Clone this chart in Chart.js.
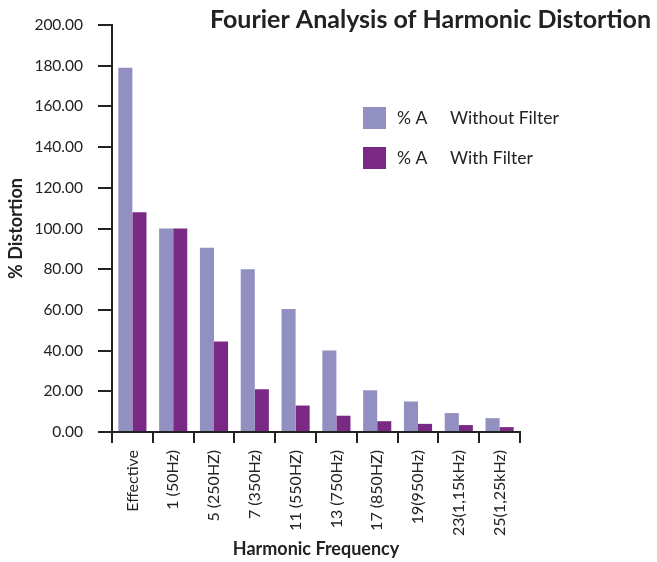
<!DOCTYPE html>
<html>
<head>
<meta charset="utf-8">
<script src="https://cdn.jsdelivr.net/npm/chart.js@4/dist/chart.umd.min.js"></script>
<style>
  html, body { margin: 0; padding: 0; background: #ffffff; }
  #wrap { width: 657px; height: 562px; position: relative; }
</style>
</head>
<body>
<div id="wrap"><canvas id="c" width="657" height="562"></canvas></div>
<script>
const chartTitle = 'Fourier Analysis of Harmonic Distortion';
const xAxisTitle = 'Harmonic Frequency';
const yAxisTitle = '% Distortion';
const categories = ['Effective', '1 (50Hz)', '5 (250HZ)', '7 (350Hz)', '11 (550HZ)', '13 (750Hz)', '17 (850HZ)', '19(950Hz)', '23(1,15kHz)', '25(1,25kHz)'];
const seriesNames = ['% A\tWithout Filter', '% A\tWith Filter'];
const withoutFilter = [179, 100, 90.5, 80, 60.5, 40, 20.5, 15, 9.3, 6.8];
const withFilter = [108, 100, 44.5, 21, 13, 8, 5.3, 4, 3.4, 2.4];
const yMin = 0, yMax = 200, yStep = 20;

const colLight = '#9190c0';
const colDark = '#7a2a84';
const ink = '#222222';
const FONT = 'Lato, "Open Sans", sans-serif';

const overlayPlugin = {
  id: 'overlay',
  afterDraw(chart) {
    const ctx = chart.ctx;
    ctx.save();
    // title
    ctx.fillStyle = ink;
    ctx.font = 'bold 25px ' + FONT;
    ctx.textAlign = 'right';
    ctx.textBaseline = 'alphabetic';
    ctx.fillText(chartTitle, 651, 28);
    // legend
    const boxX = 363, tabX = 450, textX = 397;
    const rows = [107, 147];
    chart.data.datasets.forEach((ds, i) => {
      const y = rows[i];
      ctx.fillStyle = ds.backgroundColor;
      ctx.fillRect(boxX, y, 23, 22);
      ctx.fillStyle = ink;
      ctx.font = '17.5px ' + FONT;
      ctx.textAlign = 'left';
      ctx.textBaseline = 'middle';
      const parts = ds.label.split('\t');
      ctx.fillText(parts[0], textX, y + 11);
      if (parts[1]) ctx.fillText(parts[1], tabX, y + 11);
    });
    ctx.restore();
  }
};

new Chart(document.getElementById('c'), {
  type: 'bar',
  data: {
    labels: categories,
    datasets: [
      { label: seriesNames[0], data: withoutFilter, backgroundColor: colLight, borderWidth: 0 },
      { label: seriesNames[1], data: withFilter, backgroundColor: colDark, borderWidth: 0 }
    ]
  },
  options: {
    responsive: false,
    animation: false,
    devicePixelRatio: 1,
    layout: { padding: { left: 0, right: 137, top: 25, bottom: 0 } },
    datasets: { bar: { categoryPercentage: 0.69, barPercentage: 1.0 } },
    plugins: {
      legend: { display: false },
      title: { display: false },
      tooltip: { enabled: false }
    },
    scales: {
      x: {
        grid: { display: true, drawOnChartArea: false, drawTicks: true, tickLength: 11, tickColor: ink, lineWidth: 2, offset: true },
        border: { display: true, color: ink, width: 2 },
        ticks: { color: ink, font: { family: FONT, size: 16 }, maxRotation: 90, minRotation: 90, padding: 7, autoSkip: false },
        title: { display: true, text: xAxisTitle, color: ink, font: { family: FONT, size: 18, weight: 'bold' }, padding: { top: 0, bottom: 2 } },
        afterFit(scale) { scale.height = 130; }
      },
      y: {
        min: yMin, max: yMax,
        grid: { display: true, drawOnChartArea: false, drawTicks: true, tickLength: 14, tickColor: ink, lineWidth: 2 },
        border: { display: true, color: ink, width: 2 },
        ticks: { stepSize: yStep, color: ink, font: { family: FONT, size: 15.5 }, padding: 15, callback: v => Number(v).toFixed(2) },
        title: { display: true, text: yAxisTitle, color: ink, font: { family: FONT, size: 18, weight: 'bold' }, padding: { top: 5, bottom: 0 } },
        afterFit(scale) { scale.width = 112; }
      }
    }
  },
  plugins: [overlayPlugin]
});
</script>
</body>
</html>
